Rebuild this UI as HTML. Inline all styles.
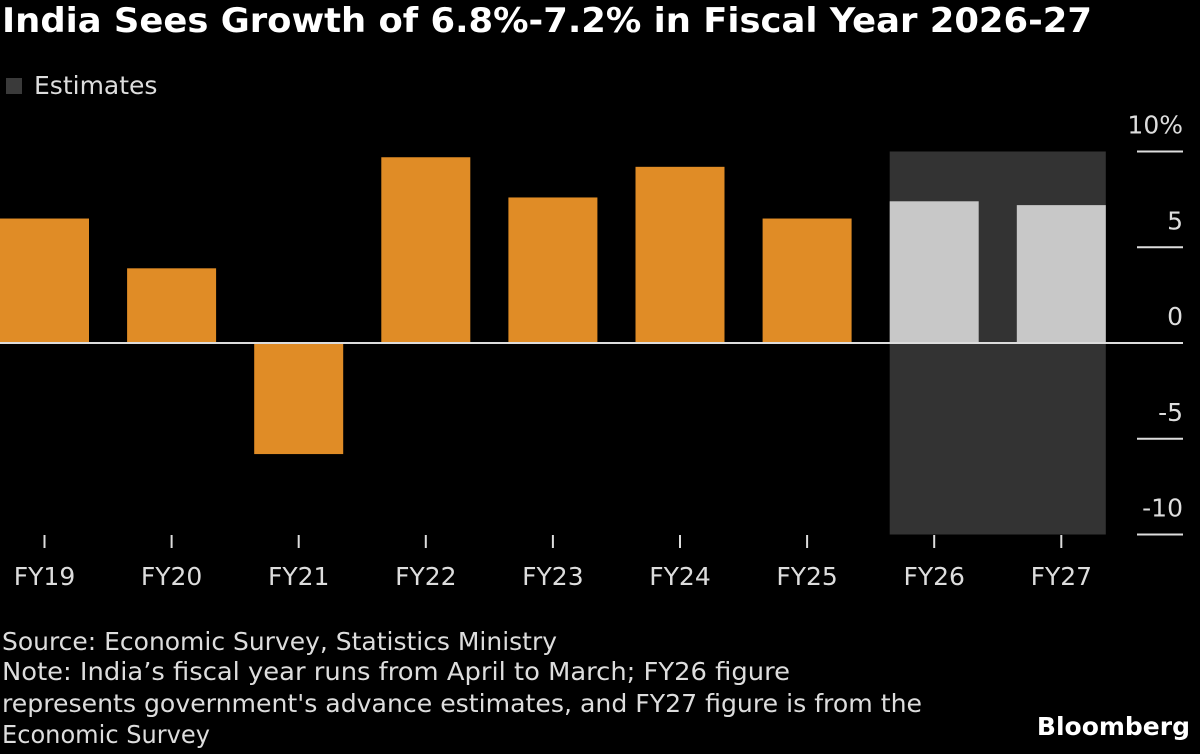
<!DOCTYPE html>
<html><head><meta charset="utf-8"><style>
body{margin:0;background:#000;width:1200px;height:750px;overflow:hidden;font-family:"DejaVu Sans",sans-serif;color:#fff}
svg{font-family:"DejaVu Sans",sans-serif}
</style></head><body>
<svg width="1200" height="750" id="c">
<text x="2" y="32" font-size="34" font-weight="bold" fill="#fff" textLength="1090" lengthAdjust="spacingAndGlyphs">India Sees Growth of 6.8%-7.2% in Fiscal Year 2026-27</text>
<rect x="6" y="78" width="16" height="16" fill="#3a3a3a"/>
<text x="34" y="94" font-size="25" fill="#ddd">Estimates</text>
<g id="g"></g>
<g font-size="24.5" fill="#ddd">
<text x="2" y="650" textLength="555" lengthAdjust="spacingAndGlyphs">Source: Economic Survey, Statistics Ministry</text>
<text x="2" y="680" textLength="788" lengthAdjust="spacingAndGlyphs">Note: India’s fiscal year runs from April to March; FY26 figure</text>
<text x="2" y="712" textLength="920" lengthAdjust="spacingAndGlyphs">represents government's advance estimates, and FY27 figure is from the</text>
<text x="2" y="743" textLength="208" lengthAdjust="spacingAndGlyphs">Economic Survey</text>
</g>
<text x="1190" y="735" text-anchor="end" font-size="25" font-weight="bold" fill="#fff">Bloomberg</text>
</svg>
<script>
const categories=["FY19","FY20","FY21","FY22","FY23","FY24","FY25","FY26","FY27"];
const values=[6.5,3.9,-5.8,9.7,7.6,9.2,6.5,7.4,7.2];
const estimate=[false,false,false,false,false,false,false,true,true];
const yTicks=[10,5,0,-5,-10];
const yTickLabels=["10%","5","0","-5","-10"];
const NS="http://www.w3.org/2000/svg";
const g=document.getElementById('g');
const y=v=>343-v*19.15;
const x=i=>i*127.1;
function mk(t,a){const e=document.createElementNS(NS,t);for(const k in a)e.setAttribute(k,a[k]);g.appendChild(e);return e;}
const est=categories.map((c,i)=>i).filter(i=>estimate[i]);
const sh=mk('rect',{x:x(est[0]),y:y(10),width:x(est[est.length-1])+89-x(est[0]),height:y(-10)-y(10),fill:'#333'});


yTicks.forEach((t,i)=>{
 const l=mk('line',{x1:1137,x2:1183,y1:y(t),y2:y(t),stroke:'#ddd','stroke-width':2});
 
 
 const tx=mk('text',{x:1183,y:y(t)-18,'text-anchor':'end','font-size':25,fill:'#ddd'});
 tx.textContent=yTickLabels[i];
 
 
});
values.forEach((v,i)=>{
 const r=mk('rect',{x:x(i),y:Math.min(y(v),y(0)),width:89,height:Math.abs(y(v)-y(0)),fill:estimate[i]?'#c8c8c8':'#e08c26'});
 
 
 const t=mk('line',{x1:x(i)+44.5,x2:x(i)+44.5,y1:535,y2:548,stroke:'#ddd','stroke-width':2});
 
 
 const tx=mk('text',{x:x(i)+44.5,y:585,'text-anchor':'middle','font-size':25,fill:'#ddd'});
 tx.textContent=categories[i];
 
 
});
const z=mk('line',{x1:0,x2:1183,y1:y(0),y2:y(0),stroke:'#ddd','stroke-width':2});


</script>
</body></html>
